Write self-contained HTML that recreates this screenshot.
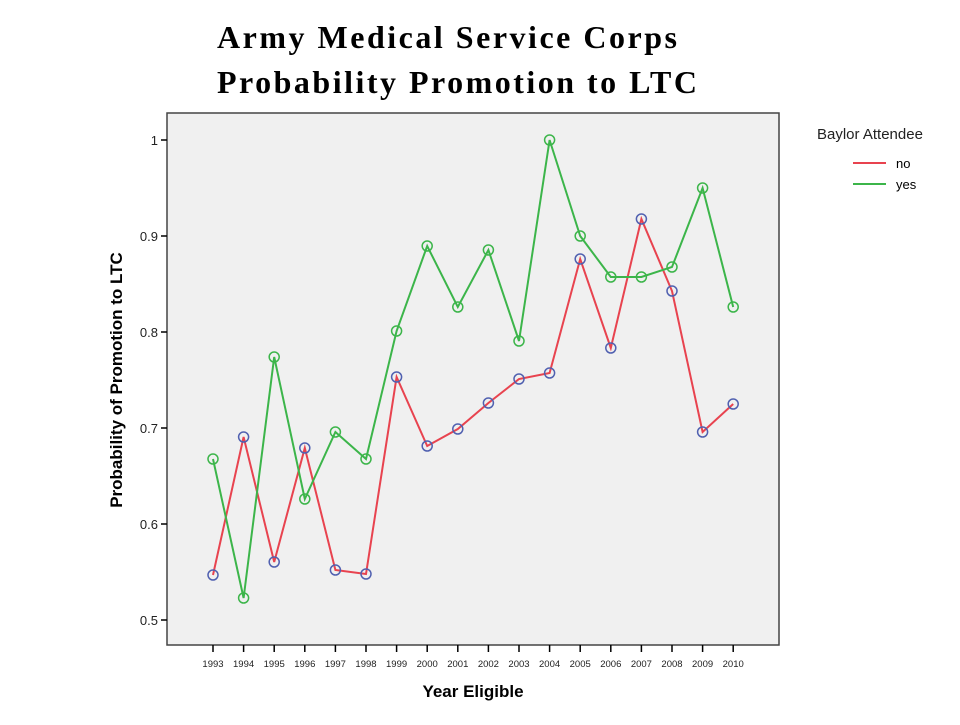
<!DOCTYPE html>
<html><head><meta charset="utf-8"><style>body{margin:0;background:#fff}</style></head><body>
<svg width="960" height="720" xmlns="http://www.w3.org/2000/svg" font-family="Liberation Sans, sans-serif">
<text x="217" y="48" font-family="Liberation Serif, serif" font-weight="bold" font-size="32" textLength="460" lengthAdjust="spacing">Army Medical Service Corps</text>
<text x="217" y="93" font-family="Liberation Serif, serif" font-weight="bold" font-size="32" textLength="480" lengthAdjust="spacing">Probability Promotion to LTC</text>
<rect x="167" y="113" width="612" height="532" fill="#f0f0f0" stroke="#444" stroke-width="1.5"/>
<g stroke="#000" stroke-width="1.5">
<line x1="161" y1="140" x2="167" y2="140"/><line x1="161" y1="236" x2="167" y2="236"/><line x1="161" y1="332" x2="167" y2="332"/><line x1="161" y1="428" x2="167" y2="428"/><line x1="161" y1="524" x2="167" y2="524"/><line x1="161" y1="620" x2="167" y2="620"/>
</g>
<g font-size="13" text-anchor="end" fill="#222">
<text x="158" y="145">1</text><text x="158" y="241">0.9</text><text x="158" y="337">0.8</text><text x="158" y="433">0.7</text><text x="158" y="529">0.6</text><text x="158" y="625">0.5</text>
</g>
<g id="xt" stroke="#000" stroke-width="1.5"></g>
<g id="xl" font-size="9.5" text-anchor="middle" fill="#222"></g>
<text x="122" y="380" font-size="17" font-weight="bold" text-anchor="middle" transform="rotate(-90 122 380)">Probability of Promotion to LTC</text>
<text x="473" y="697" font-size="17" font-weight="bold" text-anchor="middle">Year Eligible</text>
<polyline id="no" fill="none" stroke="#e8434f" stroke-width="2"/>
<polyline id="yes" fill="none" stroke="#3cb54a" stroke-width="2"/>
<g id="mk" fill="none" stroke-width="1.5"></g>
<text x="817" y="139" font-size="15" fill="#222">Baylor Attendee</text>
<line x1="853" y1="163" x2="886" y2="163" stroke="#e8434f" stroke-width="2"/><text x="896" y="168" font-size="13">no</text>
<line x1="853" y1="184" x2="886" y2="184" stroke="#3cb54a" stroke-width="2"/><text x="896" y="189" font-size="13">yes</text>
</svg>
<script>
var no=[575,437,562,448,570,574,377,446,429,403,379,373,259,348,219,291,432,404];
var yes=[459,598,357,499,432,459,331,246,307,250,341,140,236,277,277,267,188,307];
var ns="http://www.w3.org/2000/svg";
function X(i){return 213+i*30.6;}
var xt=document.getElementById('xt'),xl=document.getElementById('xl'),mk=document.getElementById('mk');
var pn=[],py=[];
for(var i=0;i<18;i++){
var l=document.createElementNS(ns,'line');l.setAttribute('x1',X(i));l.setAttribute('x2',X(i));l.setAttribute('y1',645);l.setAttribute('y2',652);xt.appendChild(l);
var t=document.createElementNS(ns,'text');t.setAttribute('x',X(i));t.setAttribute('y',667);t.textContent=1993+i;xl.appendChild(t);
pn.push(X(i)+','+no[i]);py.push(X(i)+','+yes[i]);}
document.getElementById('no').setAttribute('points',pn.join(' '));
document.getElementById('yes').setAttribute('points',py.join(' '));
for(var i=0;i<18;i++){
[[no[i],'#5060b0'],[yes[i],'#3cb54a']].forEach(function(p){var c=document.createElementNS(ns,'circle');c.setAttribute('cx',X(i));c.setAttribute('cy',p[0]);c.setAttribute('r',5);c.setAttribute('stroke',p[1]);mk.appendChild(c);});}
</script>
</body></html>
